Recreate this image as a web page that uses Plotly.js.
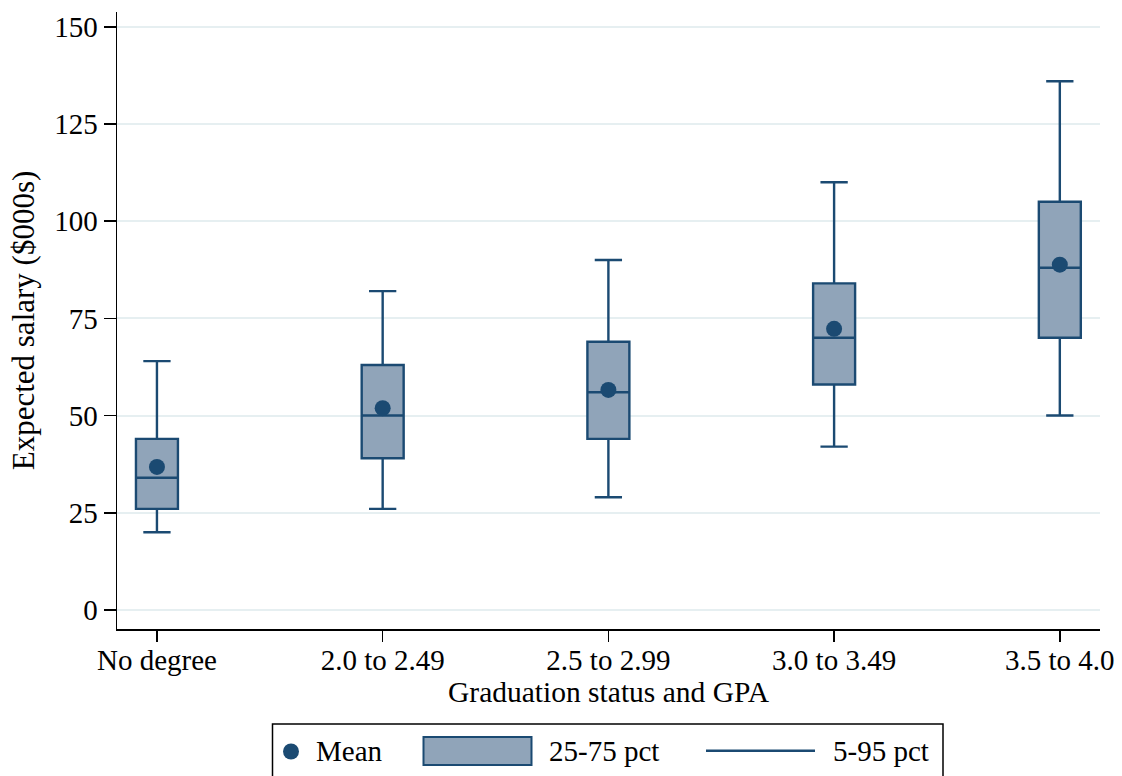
<!DOCTYPE html>
<html>
<head>
<meta charset="utf-8">
<script src="https://cdn.plot.ly/plotly-3.0.1.min.js"></script>
<style>html,body{margin:0;padding:0;background:#fff;}#chart{width:1122px;height:776px;}</style>
</head>
<body>
<div id="chart"></div>
<script>
// ---- data ----
const categories = ["No degree", "2.0 to 2.49", "2.5 to 2.99", "3.0 to 3.49", "3.5 to 4.0"];
const p5   = [20, 26, 29, 42, 50];
const p25  = [26, 39, 44, 58, 70];
const p50  = [34, 50, 56, 70, 88];
const p75  = [44, 63, 69, 84, 105];
const p95  = [64, 82, 90, 110, 136];
const means = [36.8, 51.9, 56.6, 72.3, 88.8];
const yTicks = [0, 25, 50, 75, 100, 125, 150];
const legendLabels = ["Mean", "25-75 pct", "5-95 pct"];

// ---- styles ----
const NAVY = "#1b4a72";
const FILL = "#90a4b9";
const FONT = "Liberation Serif, Times New Roman, serif";
const FS = 29;

const W = 1122, H = 776;
const M = {l: 117, r: 22, t: 12, b: 147};
const PW = W - M.l - M.r, PH = H - M.t - M.b;
const px = v => (v - M.l) / PW;          // pixel x -> paper x
const py = v => (H - M.b - v) / PH;      // pixel y -> paper y

const boxTrace = {
  type: "box",
  x: categories,
  q1: p25, median: p50, q3: p75,
  lowerfence: p5, upperfence: p95,
  width: 0.186,
  whiskerwidth: 0.65,
  fillcolor: FILL,
  line: {color: NAVY, width: 2.4},
  boxpoints: false,
  hoverinfo: "skip",
  showlegend: false
};

const meanTrace = {
  type: "scatter",
  mode: "markers",
  x: categories,
  y: means,
  marker: {color: NAVY, size: 16},
  hoverinfo: "skip",
  showlegend: false
};

const shapes = [
  // legend frame
  {type: "rect", xref: "paper", yref: "paper",
   x0: px(272.5), x1: px(943), y0: py(724), y1: py(800),
   line: {color: "#000", width: 1.5}, fillcolor: "rgba(0,0,0,0)"},
  // mean dot
  {type: "circle", xref: "paper", yref: "paper",
   x0: px(283), x1: px(299), y0: py(743.5), y1: py(759.5),
   line: {color: NAVY, width: 0}, fillcolor: NAVY},
  // IQR box
  {type: "rect", xref: "paper", yref: "paper",
   x0: px(423.5), x1: px(531.5), y0: py(737), y1: py(765),
   line: {color: NAVY, width: 2}, fillcolor: FILL},
  // whisker line
  {type: "line", xref: "paper", yref: "paper",
   x0: px(706), x1: px(815), y0: py(750.7), y1: py(750.7),
   line: {color: NAVY, width: 2.5}}
];

const legendTextX = [314, 547, 831];
const annotations = legendLabels.map((t, i) => ({
  text: t, xref: "paper", yref: "paper",
  x: px(legendTextX[i]), y: py(751),
  xanchor: "left", yanchor: "middle", showarrow: false,
  font: {family: FONT, size: FS, color: "#000"}
}));

const layout = {
  width: W, height: H,
  margin: M,
  paper_bgcolor: "#fff",
  plot_bgcolor: "#fff",
  font: {family: FONT, size: FS, color: "#000"},
  showlegend: false,
  xaxis: {
    type: "category",
    categoryorder: "array", categoryarray: categories,
    range: [-0.177, 4.178],
    showline: true, linecolor: "#000", linewidth: 1.5,
    ticks: "outside", ticklen: 11, tickwidth: 1.5, tickcolor: "#000",
    ticklabelstandoff: -6,
    showgrid: false, zeroline: false,
    tickfont: {family: FONT, size: FS, color: "#000"},
    title: {text: "Graduation status and GPA", standoff: 3,
            font: {family: FONT, size: 29.5, color: "#000"}},
    automargin: false
  },
  yaxis: {
    range: [-4.9, 153.8],
    tickvals: yTicks,
    showline: true, linecolor: "#000", linewidth: 1.5,
    ticks: "outside", ticklen: 12, tickwidth: 1.5, tickcolor: "#000",
    showgrid: true, gridcolor: "#e6eff1", gridwidth: 2,
    zeroline: false,
    tickfont: {family: FONT, size: FS, color: "#000"},
    title: {text: "Expected salary ($000s)", standoff: 10,
            font: {family: FONT, size: 31, color: "#000"}},
    automargin: false
  },
  shapes: shapes,
  annotations: annotations
};

Plotly.newPlot("chart", [boxTrace, meanTrace], layout, {displayModeBar: false, staticPlot: true});
</script>
</body>
</html>
